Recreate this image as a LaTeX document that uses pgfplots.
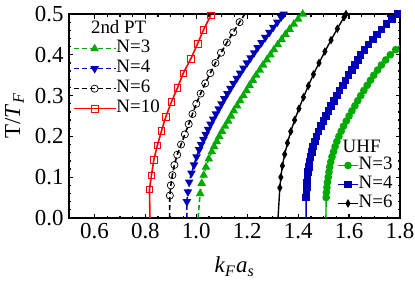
\documentclass[border=0pt]{standalone}
\usepackage{fontspec}
\setmainfont{Liberation Serif}
\usepackage{pgfplots}
\pgfplotsset{compat=1.18}
\definecolor{mygreen}{RGB}{0,170,0}
\definecolor{myblue}{RGB}{0,0,185}
\definecolor{myred}{RGB}{255,0,0}
\pgfplotsset{
  base/.style={
    width=331bp, height=204bp, scale only axis,
    xmin=0.5, xmax=1.8, ymin=0, ymax=0.5,
  },
  mydash/.style={dash pattern=on 5bp off 3bp},
}
\begin{document}
\begin{tikzpicture}
\useasboundingbox (-69bp,-63bp) rectangle (346bp,218bp);
\begin{axis}[base,
  line width=2.4bp,
  axis line style={line width=2.4bp},
  xtick={0.6,0.8,1.0,1.2,1.4,1.6,1.8},
  ytick={0,0.1,0.2,0.3,0.4,0.5},
  minor x tick num=3, minor y tick num=4,
  tick align=inside, ticks=both,
  xtick pos=both, ytick pos=both,
  major tick length=4.5bp, minor tick length=2.5bp,
  every tick/.style={black, line width=1.3bp},
  /pgf/number format/assume math mode=true,
  xticklabel style={/pgf/number format/fixed, /pgf/number format/fixed zerofill, /pgf/number format/precision=1, font=\fontsize{23}{25}\selectfont, yshift=-1bp},
  yticklabel style={/pgf/number format/fixed, /pgf/number format/fixed zerofill, /pgf/number format/precision=1, font=\fontsize{23}{25}\selectfont, xshift=-1bp},
  xlabel={\textit{k}\textsubscript{\textit{F}}\kern0.5pt\textit{a}\textsubscript{\textit{s}}},
  ylabel={T/\textit{T}\textsubscript{\textit{F}}},
  xlabel style={font=\fontsize{23}{25}\selectfont, at={(axis description cs:0.5,-0.24)}, anchor=center},
  ylabel style={font=\fontsize{23}{25}\selectfont, at={(axis description cs:-0.165,0.5)}, anchor=center},
  legend style={at={(axis description cs:0.008,0.885)}, anchor=north west, draw=none, fill=none, inner sep=0pt,
    font=\fontsize{19}{20}\selectfont, row sep=0pt, nodes={inner sep=0pt, text height=14bp, text depth=6bp}},
  legend cell align=left,
  legend image code/.code={\draw[mark repeat=2,mark phase=2,#1] plot coordinates {(0bp,0bp) (21bp,0bp) (42bp,0bp)};},
]
% 2nd PT, N=3
\addplot[mygreen, mydash, line width=1.6bp, mark=triangle*, mark size=3.4bp, mark options={solid}, mark phase=2] coordinates {
(1.007,0) (1.015,0.06) (1.021,0.085) (1.029,0.105) (1.038,0.125) (1.049,0.145) (1.061,0.1625) (1.070,0.175)
(1.080,0.1875) (1.090,0.20) (1.101,0.2125) (1.113,0.225) (1.125,0.2375) (1.136,0.25) (1.147,0.2625) (1.160,0.275)
(1.172,0.2875) (1.185,0.30) (1.197,0.3125) (1.209,0.325) (1.222,0.3375) (1.235,0.35) (1.249,0.3625) (1.262,0.375)
(1.277,0.3875) (1.291,0.40) (1.305,0.4125) (1.320,0.425) (1.335,0.4375) (1.350,0.45) (1.366,0.4625) (1.383,0.475)
(1.400,0.4875) (1.418,0.50)};
\addlegendentry{N=3}
% 2nd PT, N=4
\addplot[myblue, mydash, line width=1.6bp, mark=triangle*, mark size=3.4bp, mark options={solid, rotate=180}, mark phase=2] coordinates {
(0.963,0) (0.963,0.04) (0.967,0.064) (0.972,0.088) (0.981,0.11) (0.991,0.13) (1.001,0.15) (1.011,0.1675)
(1.019,0.18) (1.028,0.1925) (1.037,0.205) (1.046,0.2175) (1.056,0.23) (1.066,0.2425) (1.077,0.255) (1.088,0.2675)
(1.099,0.28) (1.110,0.2925) (1.122,0.305) (1.134,0.3175) (1.146,0.33) (1.159,0.3425) (1.172,0.355) (1.185,0.3675)
(1.199,0.38) (1.213,0.3925) (1.227,0.405) (1.241,0.4175) (1.256,0.43) (1.271,0.4425) (1.287,0.455) (1.302,0.4675)
(1.318,0.48) (1.333,0.4925) (1.343,0.50)};
\addlegendentry{N=4}
% 2nd PT, N=6
\addplot[black, mydash, line width=1.6bp, mark=o, mark size=3.6bp, mark options={solid, line width=0.7bp}, mark phase=2] coordinates {
(0.895,0) (0.896,0.055) (0.900,0.08) (0.906,0.105) (0.914,0.13) (0.925,0.155) (0.940,0.18) (0.955,0.205)
(0.970,0.23) (0.985,0.255) (1.000,0.28) (1.017,0.305) (1.035,0.33) (1.055,0.355) (1.075,0.38) (1.097,0.405)
(1.120,0.43) (1.145,0.455) (1.170,0.48) (1.196,0.505)};
\addlegendentry{N=6}
% 2nd PT, N=10
\addplot[myred, line width=1.6bp, mark=square, mark size=3.3bp, mark options={solid, line width=0.7bp}, mark phase=2] coordinates {
(0.818,0) (0.816,0.07) (0.824,0.105) (0.833,0.142) (0.847,0.178) (0.863,0.213) (0.880,0.248) (0.902,0.284)
(0.926,0.319) (0.949,0.355) (0.978,0.39) (1.005,0.427) (1.028,0.461) (1.057,0.497)};
\addlegendentry{N=10}
\end{axis}
\begin{axis}[base, hide axis,
  legend style={at={(axis description cs:0.81,0.305)}, anchor=north west, draw=none, fill=none, inner sep=0pt,
    font=\fontsize{19}{20}\selectfont, row sep=0pt, nodes={inner sep=0pt, text height=13.5bp, text depth=5.5bp}},
  legend cell align=left,
  legend image code/.code={\draw[mark repeat=2,mark phase=2,#1] plot coordinates {(0bp,0bp) (10bp,0bp) (20bp,0bp)};},
]
% UHF, N=3
\addplot[mygreen, line width=1.4bp, mark=*, mark size=3.1bp, mark phase=2] coordinates {
(1.509,0) (1.510,0.05) (1.511,0.0625) (1.513,0.075) (1.515,0.0875) (1.518,0.10) (1.521,0.1125) (1.524,0.125)
(1.528,0.1375) (1.533,0.15) (1.539,0.1625) (1.545,0.175) (1.552,0.1875) (1.560,0.20) (1.569,0.2125) (1.578,0.225)
(1.589,0.2375) (1.600,0.25) (1.611,0.2625) (1.623,0.275) (1.634,0.2875) (1.646,0.30) (1.658,0.3125) (1.671,0.325)
(1.684,0.3375) (1.697,0.35) (1.712,0.3625) (1.727,0.375) (1.744,0.3875) (1.762,0.40) (1.783,0.4125) (1.805,0.425)};
\addlegendentry{N=3}
% UHF, N=4
\addplot[myblue, line width=1.4bp, mark=square*, mark size=3.1bp, mark phase=2] coordinates {
(1.431,0) (1.431,0.05) (1.432,0.0625) (1.434,0.075) (1.435,0.0875) (1.437,0.10) (1.439,0.1125) (1.442,0.125)
(1.445,0.1375) (1.449,0.15) (1.454,0.1625) (1.459,0.175) (1.465,0.1875) (1.472,0.20) (1.480,0.2125) (1.489,0.225)
(1.499,0.2375) (1.509,0.25) (1.519,0.2625) (1.530,0.275) (1.541,0.2875) (1.552,0.30) (1.563,0.3125) (1.575,0.325)
(1.586,0.3375) (1.598,0.35) (1.611,0.3625) (1.624,0.375) (1.634,0.3875) (1.645,0.40) (1.660,0.4125) (1.676,0.425)
(1.693,0.4375) (1.710,0.45) (1.728,0.4625) (1.747,0.475) (1.768,0.4875) (1.790,0.50)};
\addlegendentry{N=4}
% UHF, N=6
\addplot[black, line width=1.4bp, mark=diamond*, mark size=3bp, mark options={xscale=0.8}, mark phase=2] coordinates {
(1.321,0) (1.328,0.074) (1.332,0.10) (1.338,0.128) (1.347,0.156) (1.358,0.184) (1.371,0.212) (1.386,0.24)
(1.403,0.268) (1.421,0.296) (1.440,0.324) (1.460,0.352) (1.482,0.38) (1.505,0.408) (1.529,0.436) (1.554,0.464)
(1.580,0.492) (1.588,0.50)};
\addlegendentry{N=6}
\end{axis}
\node[font=\fontsize{19}{20}\selectfont, inner sep=0pt] at (0.15*331bp,0.936*204bp) {2nd PT};
\node[font=\fontsize{19}{20}\selectfont, inner sep=0pt] at (0.884*331bp,0.352*204bp) {UHF};
\end{tikzpicture}
\end{document}
